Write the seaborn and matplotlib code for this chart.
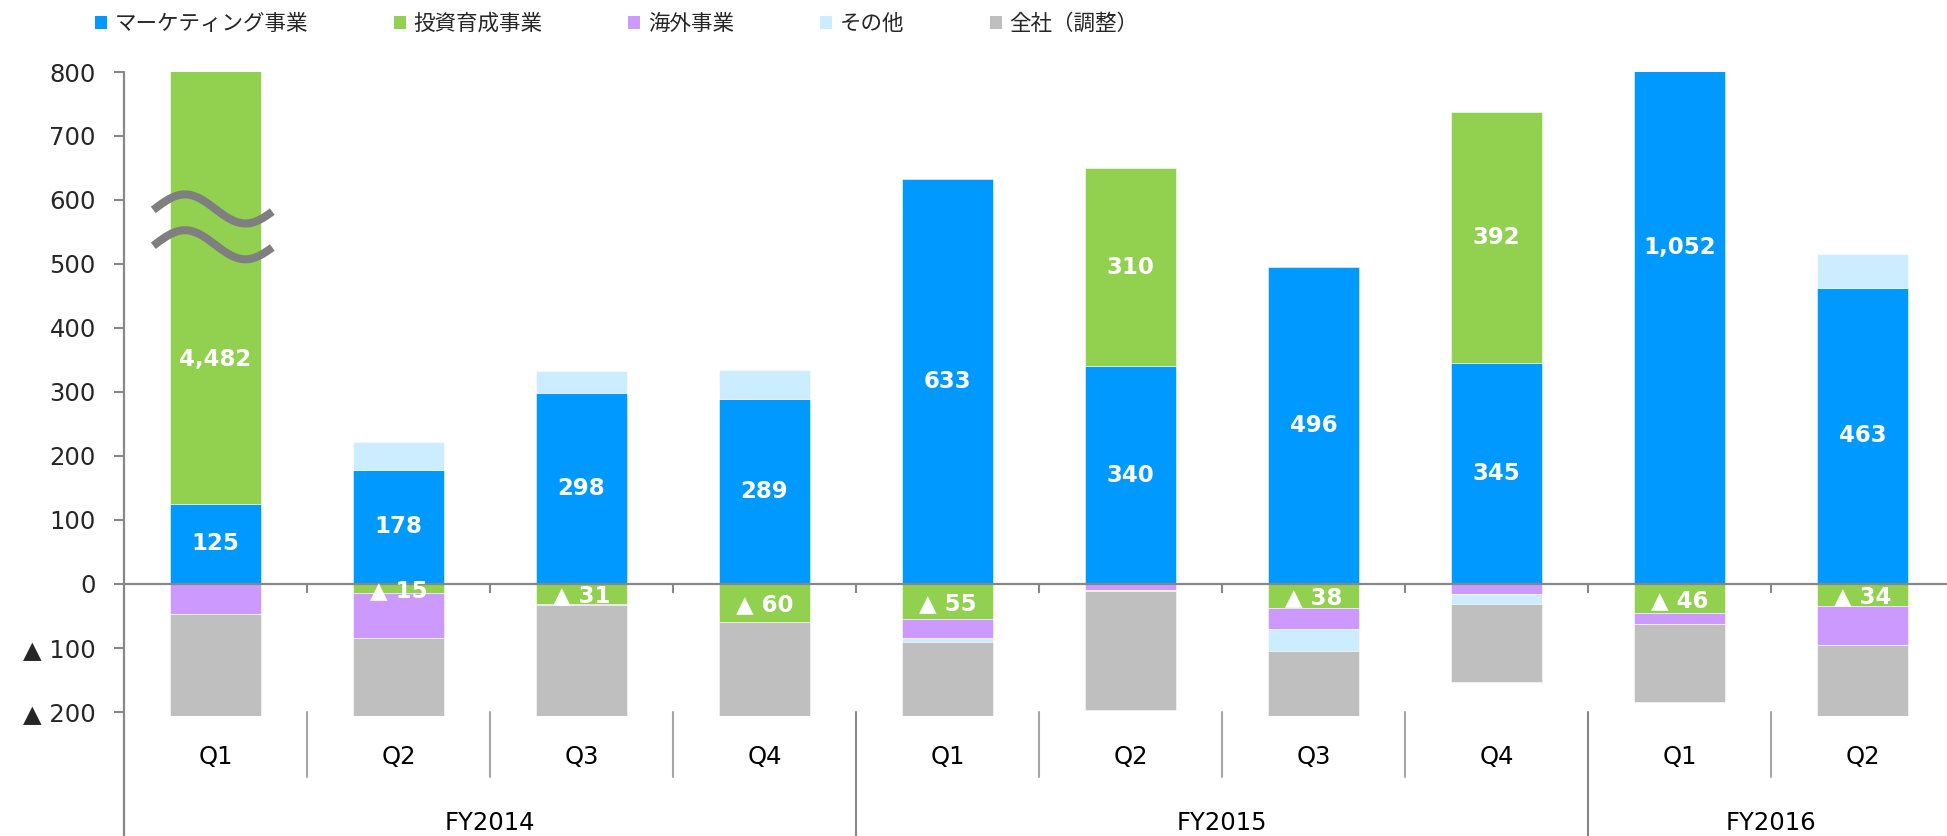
import numpy as np
import pandas as pd
import matplotlib
matplotlib.use("Agg")
import matplotlib.pyplot as plt
import seaborn as sns
from matplotlib.patches import Patch

# ---------------- data ----------------
bar_keys = ["FY2014 Q1", "FY2014 Q2", "FY2014 Q3", "FY2014 Q4",
            "FY2015 Q1", "FY2015 Q2", "FY2015 Q3", "FY2015 Q4",
            "FY2016 Q1", "FY2016 Q2"]
quarters = ["Q1", "Q2", "Q3", "Q4", "Q1", "Q2", "Q3", "Q4", "Q1", "Q2"]
fiscal_years = ["FY2014", "FY2015", "FY2016"]
fy_sizes = [4, 4, 2]

marketing = [125, 178, 298, 289, 633, 340, 496, 345, 1052, 463]
investment = [4482, -15, -31, -60, -55, 310, -38, 392, -46, -34]
overseas = [-47, -70, -2, 0, -29, -10, -33, -16, -16, -62]
other = [0, 43, 34, 45, -7, -1, -34, -16, 0, 52]
corporate = [-190, -160, -200, -170, -150, -186, -140, -121, -122, -150]

series_names = ["マーケティング事業", "投資育成事業", "海外事業", "その他", "全社（調整）"]
series_values = [marketing, investment, overseas, other, corporate]
series_colors = ["#0099FF", "#92D050", "#CC99FF", "#CCECFF", "#BFBFBF"]
labeled_series = [0, 1]

yticks = [800, 700, 600, 500, 400, 300, 200, 100, 0, -100, -200]
ytick_labels = ["800", "700", "600", "500", "400", "300", "200", "100", "0",
                "▲ 100", "▲ 200"]
YMIN, YMAX = -206, 800

# ---------------- style ----------------
sns.set_style("white")
plt.rcParams["font.family"] = ["DejaVu Sans", "Noto Sans CJK JP"]
AXIS_GRAY = "#878787"

fig = plt.figure(figsize=(19.47, 8.36), dpi=100)
ax = fig.add_axes([124 / 1947, 120.3 / 836, 1830 / 1947, 643.7 / 836])

n = len(bar_keys)
pos_base = np.zeros(n)
neg_base = np.zeros(n)
segments = []
for vals, color in zip(series_values, series_colors):
    v = np.array(vals, dtype=float)
    bottom = np.where(v >= 0, pos_base, neg_base)
    df = pd.DataFrame({"key": bar_keys, "value": v})
    sns.barplot(data=df, x="key", y="value", order=bar_keys, color=color,
                saturation=1, width=0.5, errorbar=None, bottom=bottom,
                edgecolor=(1, 1, 1, 0.6), linewidth=0.6, ax=ax)
    segments.append((v, bottom.copy()))
    pos_base = np.where(v >= 0, pos_base + v, pos_base)
    neg_base = np.where(v < 0, neg_base + v, neg_base)

ax.set_xlim(-0.5, n - 0.5)
ax.set_ylim(YMIN, YMAX)
ax.set_xlabel("")
ax.set_ylabel("")

# value labels (the 4,482 label sits below the break mark)
label_y_override = {(1, 0): 351}
for si in labeled_series:
    v, b = segments[si]
    for i in range(n):
        if v[i] == 0:
            continue
        yc = label_y_override.get((si, i), b[i] + v[i] / 2)
        if v[i] < 0:
            yc -= 3
        txt = f"{int(v[i]):,}" if v[i] > 0 else f"▲ {int(abs(v[i]))}"
        ax.text(i, yc, txt, ha="center", va="center", color="white",
                fontsize=16.5, fontweight="bold", zorder=6)

# y axis
ax.set_yticks(yticks)
ax.set_yticklabels(ytick_labels)
ax.tick_params(axis="y", direction="out", length=7.2, width=1.5,
               color=AXIS_GRAY, pad=13, labelsize=17.5, left=True)
for s in ["top", "right", "left"]:
    ax.spines[s].set_visible(False)
ax.plot([0, 0], [1, -0.19], transform=ax.transAxes, color=AXIS_GRAY,
        lw=1.6, clip_on=False, zorder=3)

# x axis at zero
ax.spines["bottom"].set_position(("data", 0))
ax.spines["bottom"].set_color(AXIS_GRAY)
ax.spines["bottom"].set_linewidth(1.6)
ax.spines["bottom"].set_zorder(4)
bounds = np.arange(0.5, n - 0.5, 1.0)
ax.set_xticks(bounds)
ax.set_xticklabels([])
ax.tick_params(axis="x", direction="out", length=6.5, width=1.5,
               color=AXIS_GRAY, bottom=True)

# category separators and labels below
xt = ax.get_xaxis_transform()
group_edges = np.cumsum(fy_sizes)[:-1] - 0.5
for bx in bounds:
    if bx in group_edges:
        ax.plot([bx, bx], [0.005, -0.19], transform=xt, color=AXIS_GRAY,
                lw=1.5, clip_on=False)
    else:
        ax.plot([bx, bx], [0.005, -0.095], transform=xt, color="#A6A6A6",
                lw=1.5, clip_on=False)
for i, q in enumerate(quarters):
    ax.text(i, -0.064, q, transform=xt, ha="center", va="center",
            fontsize=17.5, color="black")
start = 0
for fy, sz in zip(fiscal_years, fy_sizes):
    ax.text(start + (sz - 1) / 2, -0.166, fy, transform=xt, ha="center",
            va="center", fontsize=17.5, color="black")
    start += sz

# axis break mark on first bar
xs = np.linspace(-0.34, 0.31, 120)
for yc in (586, 530):
    ys = yc + 22.7 * np.sin(2 * np.pi * (xs + 0.167) / 0.662 + np.pi / 2)
    ax.plot(xs, ys, color="#7F7F7F", lw=5.8, solid_capstyle="butt",
            clip_on=False, zorder=7)

# legend
handles = [Patch(facecolor=c, edgecolor="none") for c in series_colors]
fig.legend(handles, series_names, loc="center left",
           bbox_to_anchor=(95 / 1947, 1 - 24 / 836), ncol=5, frameon=False,
           prop={"family": ["Noto Sans CJK JP"], "size": 15.5},
           handlelength=0.55, handleheight=0.55, handletextpad=0.35,
           columnspacing=4.0, borderpad=0, borderaxespad=0)

fig.savefig("out.png", dpi=100)
